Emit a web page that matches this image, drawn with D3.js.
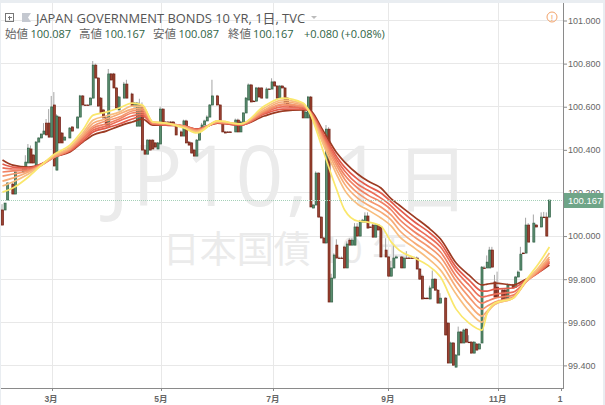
<!DOCTYPE html>
<html><head><meta charset="utf-8">
<script src="https://cdn.jsdelivr.net/npm/d3@7"></script>
<style>html,body{margin:0;padding:0;background:#fff}svg{display:block}</style>
</head><body><svg id="c" width="605" height="405"></svg>
<script>
// trading sessions of the candles (rows of ten line up across the four arrays)
const sessions=[
0,1,2,4,5,8,9,10,11,12,
13,14,15,16,17,18,19,20,21,22,
23,24,26,27,29,30,31,32,33,34,
35,36,37,38,39,40,41,42,43,44,
45,47,48,50,51,52,53,54,55,56,
57,58,59,60,61,62,63,64,65,66,
67,69,70,71,72,73,74,75,76,77,
78,79,80,81,83,84,85,86,87,88,
90,91,92,93,94,95,96,97,98,99,
100,102,103,104,105,106,107,108,109,110,
111,112,113,114,115,116,117,118,119,120,
121,122,123,124,125,126,127,128,129,130,
131,132,133,134,135,136,137,138,139,140,
141,142,143,144,145,146,148,149,150,151,
152,154,155,156,157,158,159,160,161,162,
163,164,165,166,167,168,169,171,172,173,
174,175,176,177,178,179,180,181,182,183,
184,185,186,187,188,189,190,191,193,194,
195,197,198,199,200,201,202,203,205,206,
208,209,210,211];
const opens=[
100.121,100.121,100.167,100.241,100.195,100.297,100.306,100.339,100.404,100.376,
100.329,100.436,100.455,100.473,100.524,100.524,100.459,100.608,100.306,100.552,
100.478,100.445,100.455,100.506,100.501,100.552,100.650,100.608,100.608,100.608,
100.640,100.793,100.733,100.640,100.585,100.548,100.510,100.752,100.752,100.687,
100.585,100.640,100.705,100.659,100.599,100.510,100.510,100.599,100.399,100.380,
100.445,100.445,100.432,100.404,100.427,100.589,100.529,100.529,100.529,100.529,
100.515,100.483,100.464,100.534,100.436,100.432,100.399,100.371,100.445,100.496,
100.515,100.534,100.552,100.608,100.650,100.608,100.529,100.483,100.483,100.483,
100.483,100.538,100.483,100.524,100.571,100.631,100.701,100.626,100.626,100.687,
100.687,100.640,100.682,100.682,100.715,100.696,100.640,100.696,100.687,100.640,
100.612,100.599,100.599,100.599,100.599,100.599,100.548,100.548,100.645,100.130,
100.144,100.292,100.088,99.991,99.968,100.496,99.694,99.805,99.958,99.898,
99.898,99.949,99.852,99.981,99.958,99.958,100.042,100.000,100.065,100.065,
100.093,100.042,100.051,99.995,100.051,100.042,99.935,99.903,99.814,99.852,
99.898,99.903,99.852,99.898,99.898,99.898,99.898,99.898,99.847,99.814,
99.712,99.712,99.708,99.759,99.800,99.749,99.689,99.712,99.596,99.411,
99.504,99.392,99.448,99.555,99.504,99.568,99.508,99.508,99.457,99.499,
99.476,99.504,99.852,99.852,99.852,99.935,99.787,99.763,99.749,99.749,
99.703,99.773,99.763,99.810,99.842,99.921,99.921,100.051,99.972,100.051,
100.042,100.088,100.088,100.088];
const closes=[
100.051,100.153,100.246,100.195,100.297,100.320,100.343,100.408,100.339,100.339,
100.436,100.455,100.473,100.487,100.469,100.459,100.599,100.325,100.557,100.432,
100.432,100.459,100.501,100.487,100.552,100.650,100.608,100.606,100.606,100.640,
100.793,100.733,100.603,100.571,100.548,100.515,100.752,100.724,100.687,100.594,
100.645,100.705,100.640,100.603,100.617,100.617,100.608,100.399,100.380,100.445,
100.399,100.404,100.413,100.432,100.589,100.529,100.527,100.527,100.527,100.515,
100.469,100.464,100.534,100.432,100.422,100.385,100.371,100.445,100.496,100.515,
100.534,100.552,100.608,100.650,100.608,100.529,100.483,100.478,100.480,100.480,
100.538,100.483,100.529,100.571,100.640,100.701,100.622,100.624,100.687,100.645,
100.640,100.682,100.680,100.715,100.696,100.640,100.696,100.687,100.617,100.612,
100.599,100.597,100.597,100.597,100.594,100.548,100.575,100.645,100.135,100.144,
100.292,100.088,99.991,99.968,100.496,99.694,99.805,99.912,99.898,99.896,
99.896,99.852,99.963,99.958,99.981,100.042,100.000,100.065,100.074,100.093,
100.037,100.040,99.995,100.051,100.028,99.903,99.903,99.814,99.852,99.898,
99.903,99.852,99.898,99.896,99.896,99.896,99.896,99.847,99.800,99.708,
99.710,99.710,99.759,99.800,99.749,99.689,99.712,99.541,99.411,99.504,
99.401,99.448,99.555,99.504,99.564,99.508,99.506,99.457,99.508,99.471,
99.499,99.856,99.850,99.879,99.935,99.856,99.717,99.717,99.703,99.703,
99.773,99.759,99.810,99.833,99.916,99.919,100.051,99.972,100.060,100.042,
100.088,100.086,100.000,100.167];
const highs=[
100.148,100.153,100.250,100.246,100.300,100.320,100.375,100.427,100.420,100.380,
100.440,100.458,100.476,100.524,100.543,100.589,100.650,100.668,100.565,100.556,
100.482,100.462,100.505,100.510,100.556,100.655,100.654,100.610,100.610,100.644,
100.812,100.800,100.738,100.645,100.590,100.552,100.775,100.756,100.757,100.692,
100.650,100.715,100.725,100.665,100.622,100.622,100.637,100.620,100.403,100.450,
100.449,100.449,100.436,100.436,100.600,100.593,100.533,100.533,100.533,100.533,
100.520,100.490,100.540,100.540,100.440,100.436,100.405,100.450,100.500,100.525,
100.540,100.560,100.612,100.725,100.655,100.612,100.533,100.488,100.486,100.486,
100.545,100.545,100.535,100.575,100.645,100.708,100.706,100.630,100.692,100.692,
100.690,100.690,100.686,100.732,100.720,100.700,100.700,100.700,100.692,100.645,
100.615,100.603,100.603,100.603,100.603,100.603,100.580,100.650,100.650,100.148,
100.300,100.296,100.092,99.995,100.515,100.505,99.825,99.920,99.985,99.905,
99.905,99.955,99.975,99.990,99.990,100.060,100.060,100.075,100.080,100.110,
100.110,100.046,100.056,100.056,100.056,100.046,99.990,99.908,99.885,99.960,
99.910,99.908,99.905,99.930,99.905,99.905,99.905,99.905,99.852,99.822,
99.716,99.716,99.770,99.840,99.805,99.754,99.735,99.717,99.600,99.510,
99.508,99.452,99.580,99.560,99.570,99.572,99.540,99.512,99.512,99.503,
99.503,99.860,99.862,99.910,99.950,99.950,99.820,99.835,99.755,99.755,
99.780,99.778,99.815,99.840,99.950,99.925,100.085,100.060,100.100,100.056,
100.110,100.112,100.110,100.167];
// moving averages, read at these sessions
const maSessions=[0,4,10,15,20,26,31,35,40,45,50,54,58,63,70,75,83,92,101,108,116,118,124,129,132,137,141,146,150,153,159,164,169,175,180,185,187,190,197,202,207,211];
const ma1=[100.204,100.223,100.274,100.329,100.380,100.422,100.492,100.561,100.575,100.594,100.617,100.608,100.529,100.524,100.501,100.478,100.534,100.520,100.603,100.640,100.617,100.585,100.385,100.213,100.121,100.070,100.065,100.046,99.972,99.935,99.898,99.865,99.810,99.661,99.596,99.564,99.643,99.689,99.712,99.796,99.875,99.949];
const ma2=[100.232,100.251,100.288,100.329,100.376,100.413,100.478,100.538,100.557,100.575,100.603,100.603,100.529,100.524,100.506,100.483,100.534,100.520,100.594,100.631,100.612,100.585,100.418,100.283,100.213,100.148,100.121,100.084,100.046,100.000,99.944,99.898,99.842,99.731,99.652,99.601,99.643,99.684,99.712,99.791,99.856,99.921];
const ma3=[100.255,100.269,100.297,100.329,100.371,100.408,100.469,100.524,100.543,100.566,100.589,100.594,100.529,100.524,100.506,100.487,100.529,100.520,100.585,100.622,100.608,100.585,100.432,100.306,100.241,100.176,100.144,100.111,100.074,100.028,99.968,99.926,99.875,99.763,99.684,99.629,99.652,99.684,99.712,99.787,99.847,99.903];
const ma4=[100.278,100.288,100.302,100.329,100.367,100.404,100.464,100.510,100.534,100.552,100.580,100.585,100.524,100.520,100.510,100.487,100.529,100.520,100.580,100.612,100.603,100.585,100.441,100.325,100.264,100.200,100.167,100.135,100.097,100.056,99.995,99.954,99.903,99.791,99.717,99.661,99.675,99.694,99.717,99.787,99.842,99.893];
const ma5=[100.297,100.302,100.306,100.329,100.367,100.399,100.455,100.501,100.520,100.543,100.571,100.575,100.524,100.520,100.510,100.492,100.529,100.520,100.575,100.608,100.599,100.585,100.450,100.339,100.283,100.223,100.190,100.158,100.121,100.079,100.019,99.977,99.926,99.814,99.745,99.689,99.698,99.712,99.726,99.787,99.838,99.884];
const ma6=[100.316,100.311,100.311,100.334,100.367,100.399,100.450,100.492,100.510,100.534,100.557,100.566,100.520,100.520,100.510,100.492,100.529,100.515,100.571,100.599,100.594,100.585,100.459,100.353,100.302,100.241,100.213,100.176,100.139,100.102,100.042,100.000,99.949,99.838,99.773,99.717,99.722,99.731,99.740,99.791,99.833,99.879];
const ma7=[100.334,100.320,100.316,100.334,100.367,100.394,100.441,100.483,100.501,100.520,100.543,100.557,100.520,100.515,100.510,100.496,100.524,100.515,100.566,100.589,100.589,100.585,100.469,100.367,100.320,100.264,100.232,100.200,100.158,100.125,100.065,100.023,99.968,99.856,99.796,99.745,99.745,99.754,99.759,99.796,99.833,99.875];
const ma8=[100.353,100.329,100.320,100.334,100.367,100.390,100.436,100.469,100.487,100.510,100.529,100.543,100.515,100.515,100.510,100.496,100.524,100.515,100.557,100.580,100.585,100.585,100.483,100.385,100.343,100.288,100.255,100.223,100.172,100.144,100.088,100.042,99.986,99.875,99.819,99.773,99.777,99.782,99.773,99.800,99.833,99.865];
const maSeries=[ma8,ma7,ma6,ma5,ma4,ma3,ma2,ma1];
const maColors=["#9c3a22","#e25c4c","#eb6e58","#f08264","#f4976e","#f7ab76","#f8bd7e","#fae76c"];
// axes
const priceTicks=[101,100.8,100.6,100.4,100.2,100,99.8,99.6,99.4];
const monthTicks=[19.1,61.5,104.7,149.1,191.5];
const monthLabels=["3月","5月","7月","9月","11月"];
const lastMonthTick=215.5, lastMonthLabel="1";
const titleText="JAPAN GOVERNMENT BONDS 10 YR, 1日, TVC";
const legendParts=[["始値","100.087"],["高値","100.167"],["安値","100.087"],["終値","100.167"]];
const changeText="+0.080 (+0.08%)";
const lastPrice=100.167;

const svg=d3.select("#c");
const W=605,H=405,plotL=1,plotR=563,plotT=3,plotB=388;
const x=d3.scaleLinear().domain([0,212]).range([2.5,552]);
const y=d3.scaleLinear().domain([99.4,101]).range([365.4,20.5]);
const FONT="'Open Sans','Noto Sans CJK JP',sans-serif";
const UP="#5c8f70",UPB="#2f5f44",DN="#9c4433",DNB="#6f1c10";

svg.append("rect").attr("width",W).attr("height",H).attr("fill","#e9edf1");
svg.append("rect").attr("x",plotL).attr("y",plotT).attr("width",602).attr("height",H-plotT).attr("fill","#fff");

const g=svg.append("g").attr("shape-rendering","crispEdges");
g.selectAll(".h").data(priceTicks).join("line").attr("x1",plotL).attr("x2",plotR)
 .attr("y1",d=>y(d)).attr("y2",d=>y(d)).attr("stroke","#e8e8e8");
g.selectAll(".v").data(monthTicks).join("line").attr("y1",plotT).attr("y2",plotB)
 .attr("x1",d=>x(d)).attr("x2",d=>x(d)).attr("stroke","#e8e8e8");

const wm=svg.append("text").attr("x",107).attr("y",206).attr("font-family",FONT)
 .attr("font-size",84).attr("letter-spacing",2.5).attr("fill","#ebebeb");
wm.append("tspan").text("JP10, 1");
wm.append("tspan").attr("dx",10).attr("font-size",74).text("日");
svg.append("text").attr("x",286).attr("y",263).attr("text-anchor","middle").attr("font-family",FONT)
 .attr("font-size",37).attr("fill","#ebebeb").text("日本国債 10 年");

const blur=svg.append("defs").append("filter").attr("id","soft").attr("x","-5%").attr("y","-5%").attr("width","110%").attr("height","110%");
blur.append("feGaussianBlur").attr("stdDeviation",0.3);

const marks=svg.append("g").attr("filter","url(#soft)");
const candles=marks.append("g");
const idx=d3.range(sessions.length);
candles.selectAll(".w").data(idx).join("line")
 .attr("x1",i=>x(sessions[i])-.5).attr("x2",i=>x(sessions[i])-.5)
 .attr("y1",i=>y(highs[i])).attr("y2",i=>y(Math.min(opens[i],closes[i])))
 .attr("stroke","#a5a5a5").attr("stroke-width",1);
candles.selectAll(".b").data(idx).join("rect")
 .attr("x",i=>x(sessions[i])-1).attr("width",2)
 .attr("y",i=>y(Math.max(opens[i],closes[i])))
 .attr("height",i=>Math.max(.6,Math.abs(y(opens[i])-y(closes[i]))))
 .attr("fill",i=>closes[i]>=opens[i]?UP:DN)
 .attr("stroke",i=>closes[i]>=opens[i]?UPB:DNB).attr("stroke-width",.7);

const line=d3.line().x((d,i)=>x(maSessions[i])).y(d=>y(d)).curve(d3.curveMonotoneX);
marks.append("g").selectAll("path").data(maSeries).join("path")
 .attr("d",line).attr("fill","none").attr("stroke",(d,i)=>maColors[i]).attr("stroke-width",1.7);

// last price line
svg.append("line").attr("x1",plotL).attr("x2",plotR).attr("y1",y(lastPrice)).attr("y2",y(lastPrice))
 .attr("stroke","#a5d0b8").attr("stroke-dasharray","1 1").attr("shape-rendering","crispEdges");

// axes
const ax=svg.append("g").attr("shape-rendering","crispEdges");
ax.append("line").attr("x1",563.5).attr("x2",563.5).attr("y1",plotT).attr("y2",plotB+.5).attr("stroke","#8a8a8a");
ax.append("line").attr("x1",plotL).attr("x2",563.5).attr("y1",388.5).attr("y2",388.5).attr("stroke","#8a8a8a");
const yAxis=d3.axisRight(y).tickValues(priceTicks).tickFormat(d3.format(".3f")).tickSize(3).tickPadding(1);
const ya=svg.append("g").attr("transform","translate(564,0)").call(yAxis);
ya.select(".domain").remove();
ya.selectAll("line").attr("stroke","#8a8a8a");
ya.selectAll("text").attr("font-family","'Liberation Sans',sans-serif").attr("font-size",9).attr("fill","#666");

const xLab=monthLabels.map((t,i)=>({t,v:monthTicks[i]})).concat([{t:lastMonthLabel,v:lastMonthTick}]);
const xs=svg.append("g");
xs.selectAll("line").data(xLab).join("line").attr("x1",d=>x(d.v)).attr("x2",d=>x(d.v)).attr("y1",388).attr("y2",391)
 .attr("stroke","#8a8a8a").attr("shape-rendering","crispEdges");
xs.selectAll("text").data(xLab).join("text").attr("x",d=>x(d.v)-1).attr("y",402).attr("text-anchor","middle")
 .attr("font-family","'Liberation Sans','Noto Sans CJK JP',sans-serif").attr("font-size",8.5).attr("font-weight","bold").attr("fill","#666").text(d=>d.t);

// last price tag
svg.append("rect").attr("x",564).attr("y",193).attr("width",39.5).attr("height",15).attr("fill","#6fa588");
svg.append("text").attr("x",568).attr("y",y(lastPrice)+3.5).attr("font-family","'Liberation Sans',sans-serif").attr("font-size",9.5).attr("fill","#fff").text(d3.format(".3f")(lastPrice));

// legend
const ic=svg.append("g").attr("stroke","#777").attr("fill","none").attr("shape-rendering","crispEdges");
ic.append("rect").attr("x",5.5).attr("y",13.5).attr("width",8).attr("height",8);
ic.append("line").attr("x1",7.5).attr("x2",11.5).attr("y1",17.5).attr("y2",17.5);
ic.append("line").attr("x1",9.5).attr("x2",9.5).attr("y1",15.5).attr("y2",19.5);
svg.append("path").attr("d",d3.line()([[22,13],[31,13],[28,17.5],[31,22],[22,22]])).attr("fill","#c4c8d0");
svg.append("text").attr("x",36).attr("y",22.5).attr("font-family",FONT).attr("font-size",12.9).attr("fill","#555").text(titleText);
svg.append("path").attr("d",d3.line()([[311,16],[317,16],[314,19]])).attr("fill","#bbb");

const legY=38;
const labelX=[5,79,153,228],valX=[30.5,104.5,178.5,253];
legendParts.forEach((p,i)=>{
 svg.append("text").attr("x",labelX[i]).attr("y",legY).attr("font-family",FONT).attr("font-size",11.5).attr("fill","#666").text(p[0]);
 svg.append("text").attr("x",valX[i]).attr("y",legY).attr("font-family",FONT).attr("font-size",11).attr("fill","#2f6446").text(p[1]);
});
svg.append("text").attr("x",304).attr("y",legY).attr("font-family",FONT).attr("font-size",11).attr("fill","#2f6446").text(changeText);

// notice icon
svg.append("circle").attr("cx",552).attr("cy",17).attr("r",5).attr("fill","none").attr("stroke","#f2a36b").attr("stroke-width",1);
svg.append("text").attr("x",552).attr("y",20.5).attr("text-anchor","middle").attr("font-family","'Liberation Sans',sans-serif").attr("font-size",9).attr("fill","#f2a36b").text("!");
</script></body></html>
